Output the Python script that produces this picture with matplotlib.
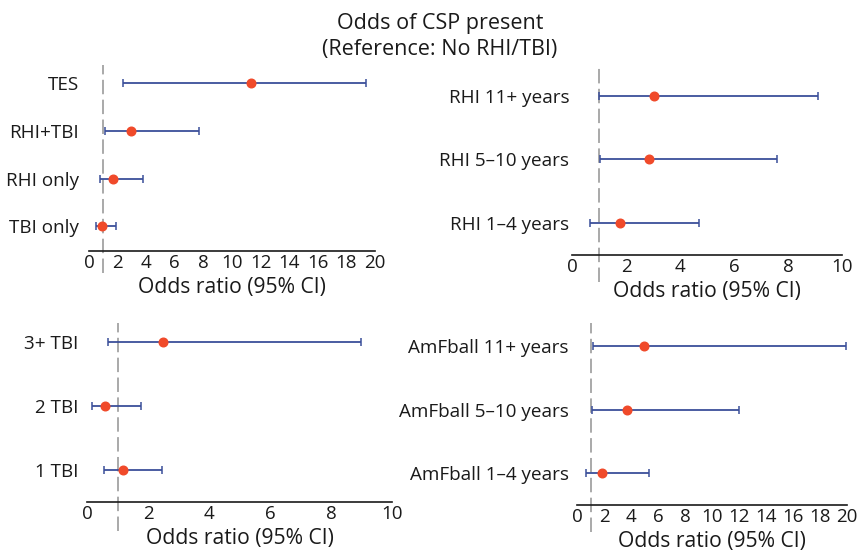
import numpy as np
import matplotlib
matplotlib.use("Agg")
import matplotlib.pyplot as plt

plt.rcParams['font.family'] = ['Open Sans', 'DejaVu Sans']

# ---- data (odds ratio, lower CI, upper CI), listed bottom -> top ----
p1_labels = ["TBI only", "RHI only", "RHI+TBI", "TES"]
p1_or = [0.94, 1.7, 2.97, 11.3]
p1_lo = [0.46, 0.76, 1.1, 2.35]
p1_hi = [1.86, 3.75, 7.66, 19.4]

p2_labels = ["RHI 1–4 years", "RHI 5–10 years", "RHI 11+ years"]
p2_or = [1.77, 2.85, 3.03]
p2_lo = [0.65, 1.05, 0.99]
p2_hi = [4.7, 7.6, 9.1]

p3_labels = ["1 TBI", "2 TBI", "3+ TBI"]
p3_or = [1.18, 0.58, 2.5]
p3_lo = [0.57, 0.17, 0.68]
p3_hi = [2.45, 1.77, 8.97]

p4_labels = ["AmFball 1–4 years", "AmFball 5–10 years", "AmFball 11+ years"]
p4_or = [1.88, 3.67, 4.99]
p4_lo = [0.64, 1.08, 1.18]
p4_hi = [5.36, 12.0, 19.9]

W, H = 861, 551
fig = plt.figure(figsize=(W / 100, H / 100), dpi=100)
fig.patch.set_facecolor("white")

LINE_C = "#3b4f9a"
DOT_C = "#f04a2a"
DASH_C = "#a3a3a3"
TXT_C = "#1a1a1a"


def px_axes(x0, y0, x1, y1):
    # pixel box (top-left origin) -> figure fraction
    return fig.add_axes([x0 / W, 1 - y1 / H, (x1 - x0) / W, (y1 - y0) / H])


def forest(ax, labels, odds, lo, hi, xmax, xticks, ylim, dash_bottom, ypad):
    y = np.arange(len(labels))
    odds = np.array(odds)
    xerr = [odds - np.array(lo), np.array(hi) - odds]
    ax.errorbar(odds, y, xerr=xerr, fmt="none", ecolor=LINE_C,
                elinewidth=1.3, capsize=2.8, capthick=1.1, zorder=2)
    ax.plot(odds, y, "o", color=DOT_C, markersize=6.2, zorder=3)
    ax.axvline(1, ymin=dash_bottom, ymax=1, color=DASH_C, lw=1.3,
               dashes=(8, 3), clip_on=False, zorder=1)
    ax.set_xlim(0, xmax)
    ax.set_ylim(*ylim)
    ax.set_xticks(xticks)
    ax.set_yticks(y)
    ax.set_yticklabels(labels)
    for s in ["top", "right", "left"]:
        ax.spines[s].set_visible(False)
    ax.spines["bottom"].set_color(TXT_C)
    ax.spines["bottom"].set_linewidth(1.2)
    ax.tick_params(axis="x", length=0, pad=2.5, labelsize=13.5, colors=TXT_C)
    ax.tick_params(axis="y", length=0, pad=ypad, labelsize=13.6, colors=TXT_C)
    ax.set_xlabel("Odds ratio (95% CI)", fontsize=15.2, color=TXT_C, labelpad=3)


ax1 = px_axes(89, 65, 375, 251)
forest(ax1, p1_labels, p1_or, p1_lo, p1_hi, 20, range(0, 21, 2),
       (-0.52, 3.38), -0.118, 7)

ax2 = px_axes(572, 65, 842, 255)
forest(ax2, p2_labels, p2_or, p2_lo, p2_hi, 10, range(0, 11, 2),
       (-0.5, 2.48), -0.14, 2)

ax3 = px_axes(87, 323, 392, 502)
forest(ax3, p3_labels, p3_or, p3_lo, p3_hi, 10, range(0, 11, 2),
       (-0.51, 2.30), -0.16, 6)

ax4 = px_axes(577, 323, 847, 505)
forest(ax4, p4_labels, p4_or, p4_lo, p4_hi, 20, range(0, 21, 2),
       (-0.50, 2.36), -0.15, 6)

fig.text(440 / W, 1 - 24 / H, "Odds of CSP present", ha="center", va="center",
         fontsize=15.5, color=TXT_C)
fig.text(440 / W, 1 - 49 / H, "(Reference: No RHI/TBI)", ha="center", va="center",
         fontsize=15.5, color=TXT_C)

fig.savefig("out.png", dpi=100, facecolor="white")
